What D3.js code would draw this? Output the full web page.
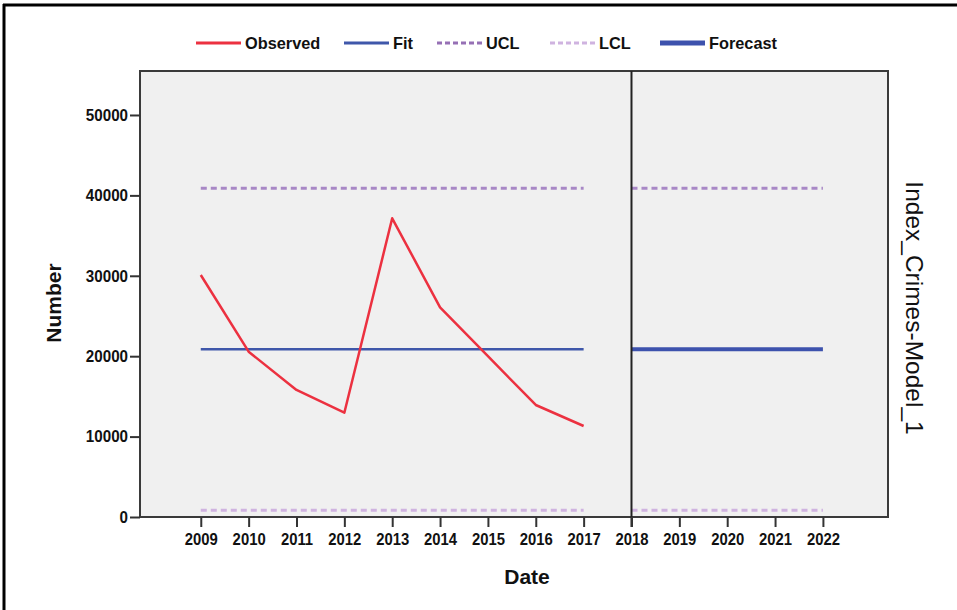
<!DOCTYPE html>
<html>
<head>
<meta charset="utf-8">
<script src="https://cdn.jsdelivr.net/npm/d3@7"></script>
<style>
  html, body { margin: 0; padding: 0; background: #fff; }
  svg { display: block; }
  text { font-family: "Liberation Sans", Arial, sans-serif; }
</style>
</head>
<body>
<svg id="chart" width="957" height="610"></svg>
<script>
// Observed index crimes and the model's fit, control limits and forecast
const years = [2009, 2010, 2011, 2012, 2013, 2014, 2015, 2016, 2017];
const observed = [30100, 20560, 15800, 12970, 37150, 26080, 20000, 13930, 11320];
const fit = [20860, 20860, 20860, 20860, 20860, 20860, 20860, 20860, 20860];
const ucl = [40880, 40880, 40880, 40880, 40880, 40880, 40880, 40880, 40880];
const lcl = [840, 840, 840, 840, 840, 840, 840, 840, 840];

const forecastYears = [2018, 2019, 2020, 2021, 2022];
const forecast = [20860, 20860, 20860, 20860, 20860];
const forecastUcl = [40880, 40880, 40880, 40880, 40880];
const forecastLcl = [840, 840, 840, 840, 840];

const tickYears = [2009, 2010, 2011, 2012, 2013, 2014, 2015, 2016, 2017, 2018, 2019, 2020, 2021, 2022];
const yTicks = [0, 10000, 20000, 30000, 40000, 50000];

const colors = {
  observed: "#ec3140",
  fit: "#3f57aa",
  forecast: "#3d52ad",
  ucl: "#a888c6",
  lcl: "#cfb3e0",
  plotBg: "#f0f0f0"
};

const svg = d3.select("#chart");
const plot = { left: 140, right: 888, top: 71, bottom: 517 };

const x = d3.scaleLinear().domain([2007.73, 2023.36]).range([plot.left, plot.right]);
const y = d3.scaleLinear().domain([0, 55470]).range([plot.bottom, plot.top]);

// outer frame (top and left edges)
svg.append("line").attr("x1", 3).attr("x2", 957).attr("y1", 5).attr("y2", 5)
  .attr("stroke", "#000").attr("stroke-width", 3);
svg.append("line").attr("x1", 4).attr("x2", 4).attr("y1", 4).attr("y2", 610)
  .attr("stroke", "#000").attr("stroke-width", 3);

// plot background
svg.append("rect")
  .attr("x", plot.left).attr("y", plot.top)
  .attr("width", plot.right - plot.left).attr("height", plot.bottom - plot.top)
  .attr("fill", colors.plotBg);

const line = d3.line().x(d => x(d[0])).y(d => y(d[1]));
const pairs = (xs, vs) => xs.map((v, i) => [v, vs[i]]);

function drawSeries(data, color, width, dash) {
  svg.append("path")
    .datum(data)
    .attr("d", line)
    .attr("fill", "none")
    .attr("stroke", color)
    .attr("stroke-width", width)
    .attr("stroke-dasharray", dash || null)
    .attr("stroke-linejoin", "round");
}

// history segment
drawSeries(pairs(years, ucl), colors.ucl, 3, "6,4");
drawSeries(pairs(years, lcl), colors.lcl, 3, "6,4");
drawSeries(pairs(years, fit), colors.fit, 2.5);
drawSeries(pairs(years, observed), colors.observed, 2.5);

// forecast segment
drawSeries(pairs(forecastYears, forecastUcl), colors.ucl, 3, "6,4");
drawSeries(pairs(forecastYears, forecastLcl), colors.lcl, 3, "6,4");
drawSeries(pairs(forecastYears, forecast), colors.forecast, 4);

// plot frame
svg.append("rect")
  .attr("x", plot.left).attr("y", plot.top)
  .attr("width", plot.right - plot.left).attr("height", plot.bottom - plot.top)
  .attr("fill", "none").attr("stroke", "#3a3a3a").attr("stroke-width", 2);

// forecast start marker
svg.append("line")
  .attr("x1", x(2018)).attr("x2", x(2018))
  .attr("y1", plot.top).attr("y2", plot.bottom + 10)
  .attr("stroke", "#222").attr("stroke-width", 2);

// y axis
const yAxis = svg.append("g")
  .attr("transform", `translate(${plot.left},0)`)
  .call(d3.axisLeft(y).tickValues(yTicks).tickFormat(d3.format("d")).tickSize(10).tickPadding(2).tickSizeOuter(0));
yAxis.select(".domain").remove();
yAxis.selectAll(".tick line").attr("stroke", "#333").attr("stroke-width", 2);
yAxis.selectAll(".tick text")
  .attr("font-size", 16.5).attr("font-weight", "bold").attr("fill", "#111")
  .attr("x", -13).attr("transform", "scale(0.92,1)");

// x axis
const xAxis = svg.append("g")
  .attr("transform", `translate(0,${plot.bottom})`)
  .call(d3.axisBottom(x).tickValues(tickYears).tickFormat(d3.format("d")).tickSize(10).tickPadding(6).tickSizeOuter(0));
xAxis.select(".domain").remove();
xAxis.selectAll(".tick line").attr("stroke", "#333").attr("stroke-width", 2);
xAxis.selectAll(".tick text")
  .attr("font-size", 16.5).attr("font-weight", "bold").attr("fill", "#111")
  .attr("transform", "scale(0.9,1)");

// axis titles
svg.append("text")
  .attr("x", 527).attr("y", 584)
  .attr("text-anchor", "middle")
  .attr("font-size", 21).attr("font-weight", "bold").attr("fill", "#111")
  .text("Date");

svg.append("text")
  .attr("transform", `translate(61,${(plot.top + plot.bottom) / 2 + 9}) rotate(-90)`)
  .attr("text-anchor", "middle")
  .attr("font-size", 21).attr("font-weight", "bold").attr("fill", "#111")
  .text("Number");

svg.append("text")
  .attr("transform", `translate(906,${(plot.top + plot.bottom) / 2 + 14}) rotate(90)`)
  .attr("text-anchor", "middle")
  .attr("font-size", 24.5).attr("fill", "#111")
  .text("Index_Crimes-Model_1");

// legend
const legendItems = [
  { label: "Observed", color: colors.observed, width: 3, dash: null, x0: 196 },
  { label: "Fit", color: colors.fit, width: 3, dash: null, x0: 344 },
  { label: "UCL", color: "#9670b5", width: 3, dash: "5,3", x0: 437 },
  { label: "LCL", color: colors.lcl, width: 3, dash: "5,3", x0: 550 },
  { label: "Forecast", color: colors.forecast, width: 5, dash: null, x0: 660 }
];
const legend = svg.append("g");
legendItems.forEach(item => {
  legend.append("line")
    .attr("x1", item.x0).attr("x2", item.x0 + 45)
    .attr("y1", 43).attr("y2", 43)
    .attr("stroke", item.color).attr("stroke-width", item.width)
    .attr("stroke-dasharray", item.dash);
  legend.append("text")
    .attr("x", item.x0 + 49).attr("y", 49)
    .attr("font-size", 17).attr("font-weight", "bold").attr("fill", "#111")
    .attr("transform", `translate(${(item.x0 + 49) * 0.04},0) scale(0.96,1)`)
    .text(item.label);
});
</script>
</body>
</html>
